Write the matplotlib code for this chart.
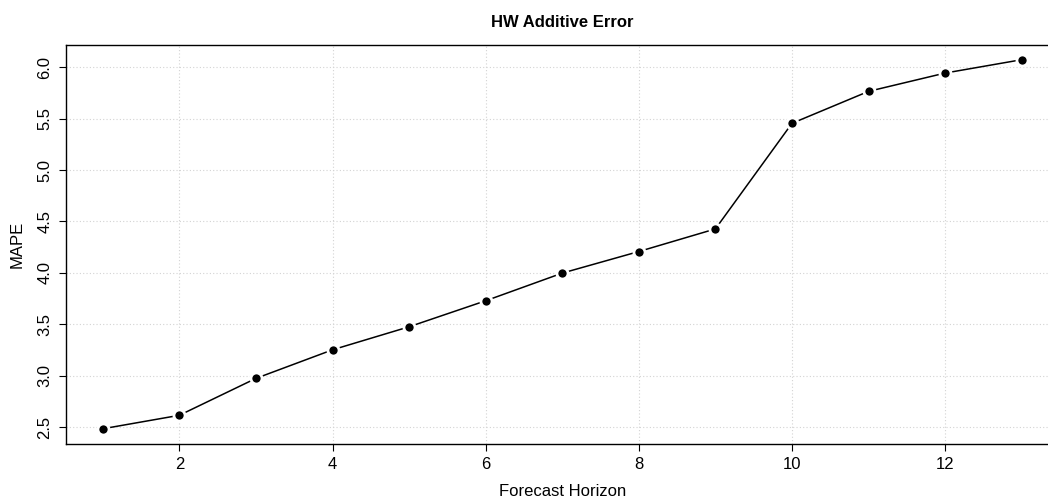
import matplotlib
matplotlib.use("Agg")
import matplotlib.pyplot as plt

plt.rcParams['font.family'] = ['Liberation Sans', 'DejaVu Sans']

horizon = [1, 2, 3, 4, 5, 6, 7, 8, 9, 10, 11, 12, 13]
mape = [2.483, 2.614, 2.973, 3.251, 3.475, 3.728, 3.997, 4.207, 4.427, 5.454, 5.765, 5.943, 6.073]
xticks = [2, 4, 6, 8, 10, 12]
yticks = [2.5, 3.0, 3.5, 4.0, 4.5, 5.0, 5.5, 6.0]
ytick_labels = ["2.5", "3.0", "3.5", "4.0", "4.5", "5.0", "5.5", "6.0"]

fig = plt.figure(figsize=(10.48, 4.97), dpi=100)
ax = fig.add_axes([0.063, 0.1076, 0.947, 0.802])

ax.plot(horizon, mape, color='black', lw=1.1, marker='o', markersize=8,
        markerfacecolor='black', markeredgecolor='white', markeredgewidth=2, zorder=3)

xr = max(horizon) - min(horizon)
ax.set_xlim(min(horizon) - 0.04 * xr, max(horizon) + 0.04 * xr)
yr = max(mape) - min(mape)
ax.set_ylim(min(mape) - 0.04 * yr, max(mape) + 0.04 * yr)

ax.set_xticks(xticks)
ax.set_xticklabels([str(t) for t in xticks])
ax.set_yticks(yticks)
ax.set_yticklabels(ytick_labels, rotation=90, va='center')

ax.grid(True, color='#d3d3d3', linestyle=(0, (1, 2)), linewidth=0.8)
ax.set_axisbelow(True)

ax.tick_params(axis='both', direction='out', length=5, width=0.8, labelsize=12, colors='black')
ax.tick_params(axis='x', pad=5)
ax.tick_params(axis='y', pad=5)
for s in ax.spines.values():
    s.set_linewidth(1.0)
    s.set_color('black')

ax.set_xlabel('Forecast Horizon', fontsize=12, labelpad=8)
ax.set_ylabel('MAPE', fontsize=12, labelpad=9)
ax.set_title('HW Additive Error', fontsize=12, fontweight='bold', pad=13)

fig.savefig('out.png', dpi=100)
